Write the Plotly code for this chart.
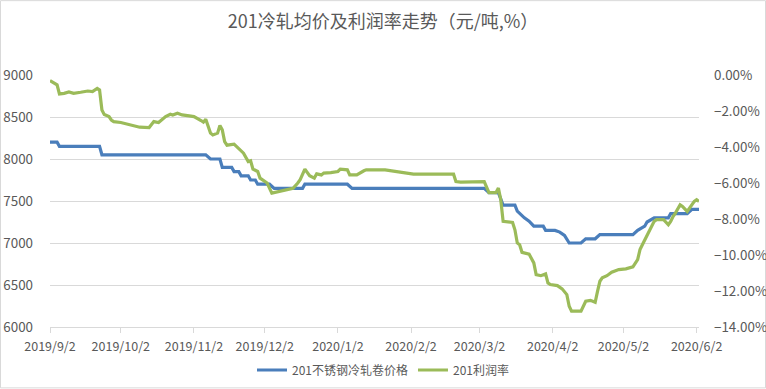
import plotly.graph_objects as go

# ---- data ----
price_dates = [
    "2019-09-02", "2019-09-05", "2019-09-06", "2019-09-23", "2019-09-24", "2019-11-07",
    "2019-11-09", "2019-11-13", "2019-11-14", "2019-11-18", "2019-11-19", "2019-11-21",
    "2019-11-22", "2019-11-25", "2019-11-26", "2019-11-28", "2019-11-29", "2019-12-04",
    "2019-12-06", "2019-12-18", "2019-12-19", "2020-01-06", "2020-01-08", "2020-03-04",
    "2020-03-06", "2020-03-10", "2020-03-12", "2020-03-17", "2020-03-18", "2020-03-19",
    "2020-03-21", "2020-03-23", "2020-03-25", "2020-03-29", "2020-03-30", "2020-04-03",
    "2020-04-05", "2020-04-07", "2020-04-09", "2020-04-14", "2020-04-16", "2020-04-20",
    "2020-04-22", "2020-05-06", "2020-05-08", "2020-05-11", "2020-05-12", "2020-05-15",
    "2020-05-21", "2020-05-22", "2020-05-29", "2020-05-31", "2020-06-03",
]
price_values = [
    8200, 8200, 8150, 8150, 8050, 8050,
    8000, 8000, 7900, 7900, 7850, 7850,
    7800, 7800, 7750, 7750, 7700, 7700,
    7650, 7650, 7700, 7700, 7650, 7650,
    7600, 7600, 7450, 7450, 7380, 7350,
    7300, 7260, 7200, 7200, 7150, 7150,
    7130, 7090, 7000, 7000, 7050, 7050,
    7100, 7100, 7150, 7200, 7250, 7300,
    7300, 7350, 7350, 7400, 7400,
]

profit_dates = [
    "2019-09-02", "2019-09-04", "2019-09-05", "2019-09-06", "2019-09-08", "2019-09-10",
    "2019-09-12", "2019-09-15", "2019-09-18", "2019-09-20", "2019-09-22", "2019-09-23",
    "2019-09-24", "2019-09-25", "2019-09-27", "2019-09-28", "2019-09-29", "2019-10-02",
    "2019-10-05", "2019-10-07", "2019-10-10", "2019-10-14", "2019-10-16", "2019-10-18",
    "2019-10-20", "2019-10-21", "2019-10-23", "2019-10-24", "2019-10-26", "2019-10-28",
    "2019-10-31", "2019-11-02", "2019-11-05", "2019-11-06", "2019-11-07", "2019-11-09",
    "2019-11-10", "2019-11-12", "2019-11-13", "2019-11-14", "2019-11-15", "2019-11-16",
    "2019-11-19", "2019-11-20", "2019-11-22", "2019-11-23", "2019-11-25", "2019-11-26",
    "2019-11-27", "2019-11-29", "2019-11-30", "2019-12-02", "2019-12-03", "2019-12-05",
    "2019-12-07", "2019-12-10", "2019-12-14", "2019-12-16", "2019-12-17", "2019-12-19",
    "2019-12-21", "2019-12-23", "2019-12-24", "2019-12-26", "2019-12-27", "2019-12-30",
    "2020-01-02", "2020-01-03", "2020-01-06", "2020-01-07", "2020-01-10", "2020-01-13",
    "2020-01-14", "2020-01-22", "2020-01-27", "2020-02-01", "2020-02-03", "2020-02-20",
    "2020-02-21", "2020-02-23", "2020-03-04", "2020-03-06", "2020-03-09", "2020-03-10",
    "2020-03-11", "2020-03-12", "2020-03-16", "2020-03-17", "2020-03-18", "2020-03-19",
    "2020-03-20", "2020-03-23", "2020-03-25", "2020-03-26", "2020-03-28", "2020-03-30",
    "2020-03-31", "2020-04-01", "2020-04-04", "2020-04-06", "2020-04-08", "2020-04-09",
    "2020-04-10", "2020-04-14", "2020-04-16", "2020-04-18", "2020-04-20", "2020-04-21",
    "2020-04-22", "2020-04-23", "2020-04-25", "2020-04-27", "2020-04-30", "2020-05-03",
    "2020-05-06", "2020-05-08", "2020-05-09", "2020-05-10", "2020-05-12", "2020-05-13",
    "2020-05-15", "2020-05-16", "2020-05-19", "2020-05-21", "2020-05-22", "2020-05-23",
    "2020-05-24", "2020-05-26", "2020-05-27", "2020-05-29", "2020-05-30", "2020-06-01",
    "2020-06-02", "2020-06-03",
]
profit_values = [
    -0.31, -0.46, -0.55, -1.05, -1.02, -0.94,
    -1.02, -0.96, -0.89, -0.92, -0.74, -0.83,
    -1.94, -2.20, -2.31, -2.50, -2.59, -2.64,
    -2.74, -2.83, -2.90, -2.92, -2.59, -2.64,
    -2.40, -2.31, -2.18, -2.22, -2.12, -2.22,
    -2.27, -2.31, -2.53, -2.62, -2.46, -3.23,
    -3.33, -3.23, -2.81, -3.05, -3.70, -3.90,
    -3.84, -3.97, -4.25, -4.34, -4.81, -4.77,
    -5.23, -5.36, -5.73, -5.92, -6.00, -6.56,
    -6.50, -6.40, -6.30, -6.00, -5.82, -5.23,
    -5.60, -5.73, -5.49, -5.55, -5.45, -5.42,
    -5.36, -5.23, -5.27, -5.55, -5.55, -5.32,
    -5.27, -5.27, -5.36, -5.49, -5.51, -5.51,
    -5.92, -5.95, -5.92, -6.53, -6.53, -6.28,
    -6.93, -8.13, -8.19, -8.60, -9.33, -9.43,
    -9.85, -9.95, -10.44, -11.09, -11.15, -11.05,
    -11.55, -11.64, -11.70, -11.88, -12.20, -12.85,
    -13.12, -13.12, -12.57, -12.52, -12.63, -12.02,
    -11.46, -11.27, -11.15, -10.96, -10.81, -10.77,
    -10.66, -10.26, -9.70, -9.43, -8.90, -8.60,
    -8.13, -8.04, -8.04, -8.32, -8.13, -7.86,
    -7.67, -7.21, -7.30, -7.58, -7.39, -7.02,
    -6.93, -7.02,
]

tick_dates = ["2019-09-02", "2019-10-02", "2019-11-02", "2019-12-02", "2020-01-02",
              "2020-02-02", "2020-03-02", "2020-04-02", "2020-05-02", "2020-06-02"]
tick_labels = ["2019/9/2", "2019/10/2", "2019/11/2", "2019/12/2", "2020/1/2",
               "2020/2/2", "2020/3/2", "2020/4/2", "2020/5/2", "2020/6/2"]

price_name = "201不锈钢冷轧卷价格"
profit_name = "201利润率"
title_text = "201冷轧均价及利润率走势（元/吨,%）"

FONT = "Noto Sans CJK SC, Noto Sans, sans-serif"
TXT = "#595959"
GRID = "#d9d9d9"

fig = go.Figure()
fig.add_trace(go.Scatter(x=price_dates, y=price_values, name=price_name, mode="lines",
                         line=dict(color="#4a7ebb", width=3.2), yaxis="y"))
fig.add_trace(go.Scatter(x=profit_dates, y=profit_values, name=profit_name, mode="lines",
                         line=dict(color="#9bbb59", width=3.2), yaxis="y2"))

fig.update_layout(
    width=766, height=389,
    margin=dict(l=50, r=67, t=75, b=61.5, autoexpand=False),
    paper_bgcolor="white", plot_bgcolor="white",
    font=dict(family=FONT, size=12, color=TXT),
    title=dict(text=title_text, x=0.5, xref="container", xanchor="center",
               y=1 - 22 / 389, yref="container", yanchor="middle",
               font=dict(size=18, color=TXT, family=FONT)),
    xaxis=dict(type="date", range=["2019-09-02", "2020-06-03"],
               tickvals=tick_dates, ticktext=tick_labels,
               showgrid=False, showline=True, linecolor=GRID, linewidth=1,
               ticks="outside", ticklen=5, tickcolor=GRID, tickwidth=1,
               tickfont=dict(size=12.5, color=TXT), ticklabelstandoff=3,
               zeroline=False, automargin=False),
    yaxis=dict(range=[6000, 9000], dtick=500, tick0=6000, showgrid=True, gridcolor=GRID,
               gridwidth=1, zeroline=False, showline=False, ticks="",
               tickfont=dict(size=13.4, color=TXT), ticklabelstandoff=16, automargin=False),
    yaxis2=dict(range=[-14, 0], dtick=2, tick0=0, overlaying="y", side="right",
                showgrid=False, zeroline=False, showline=False, ticks="",
                tickformat=".2f", ticksuffix="%",
                tickfont=dict(size=13.4, color=TXT), ticklabelstandoff=14, automargin=False),
    legend=dict(orientation="h", xref="container", x=0.5, xanchor="center",
                yref="container", y=19 / 389, yanchor="middle",
                font=dict(size=12, color=TXT), bgcolor="rgba(0,0,0,0)"),
    showlegend=True,
)

# light outer frame of the chart area
fig.add_shape(type="rect", xref="paper", yref="paper",
              x0=(0.5 - 50) / 649, x1=(765.5 - 50) / 649,
              y0=(327.5 - 388.5) / 252.5, y1=(327.5 - 0.5) / 252.5,
              line=dict(color=GRID, width=1), fillcolor="rgba(0,0,0,0)", layer="below")

fig.write_html("out.html", config={"displayModeBar": False},
               post_script="document.body.style.margin='0';")
